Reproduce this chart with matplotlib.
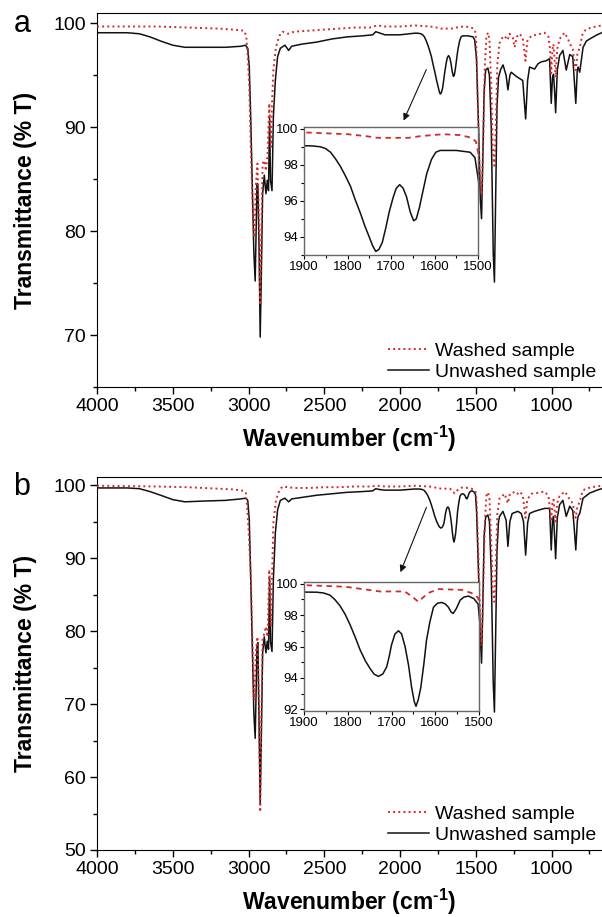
import numpy as np
import matplotlib
matplotlib.use("Agg")
import matplotlib.pyplot as plt
from matplotlib.ticker import MultipleLocator
from matplotlib.lines import Line2D

plt.rcParams['font.family'] = ['Liberation Sans', 'DejaVu Sans']
plt.rcParams['mathtext.fontset'] = 'custom'
plt.rcParams['mathtext.rm'] = 'Liberation Sans'
plt.rcParams['mathtext.bf'] = 'Liberation Sans:bold'

# ---- panel a: unwashed (black) ----
wn_unwashed_a = [4000, 3800, 3720, 3650, 3580, 3500, 3420, 3300, 3150, 3050, 3020, 3005, 2995, 2985,
                 2975, 2965, 2956, 2950, 2944, 2938, 2930, 2923, 2915, 2907, 2896, 2885, 2876, 2868,
                 2861, 2855, 2845, 2836, 2823, 2808, 2790, 2760, 2735, 2715, 2650, 2550, 2450, 2350,
                 2250, 2180, 2160, 2140, 2100, 2000, 1900, 1880, 1862, 1850, 1839, 1828, 1816, 1805,
                 1793, 1782, 1770, 1760, 1750, 1742, 1735, 1728, 1720, 1712, 1704, 1695, 1688, 1680,
                 1672, 1664, 1656, 1648, 1642, 1635, 1627, 1618, 1607, 1597, 1587, 1550, 1518, 1507,
                 1495, 1480, 1470, 1462, 1455, 1445, 1435, 1420, 1410, 1398, 1385, 1377, 1370, 1360,
                 1350, 1335, 1320, 1300, 1288, 1275, 1266, 1233, 1211, 1190, 1171, 1158, 1145, 1112,
                 1090, 1068, 1035, 1013, 1002, 994, 987, 980, 973, 962, 947, 925, 903, 880, 860, 850,
                 840, 830, 825, 814, 792, 770, 748, 700, 669]
t_unwashed_a = [99.1, 99.1, 99.0, 98.7, 98.3, 97.9, 97.7, 97.7, 97.7, 97.8, 97.9, 97.6, 95.8, 90.7,
                84.3, 78.0, 75.2, 80.0, 84.6, 84.3, 78.0, 69.8, 76.0, 83.6, 85.4, 83.6, 84.9, 83.9,
                91.0, 84.9, 83.9, 91.0, 94.5, 96.8, 97.6, 97.9, 97.4, 97.8, 98.0, 98.2, 98.5, 98.7,
                98.8, 98.9, 99.2, 99.1, 98.9, 98.9, 99.06, 99.05, 99.0, 98.9, 98.7, 98.35, 97.9, 97.4,
                96.8, 96.05, 95.3, 94.6, 94.0, 93.5, 93.2, 93.3, 93.7, 94.5, 95.4, 96.2, 96.7, 96.9,
                96.7, 96.2, 95.4, 94.9, 95.0, 95.6, 96.5, 97.5, 98.3, 98.7, 98.8, 98.8, 98.7, 98.4,
                96.5, 89.0, 83.0, 81.2, 86.0, 93.5, 95.5, 95.7, 95.0, 90.0, 78.0, 75.1, 82.0, 92.0,
                94.8, 95.6, 96.0, 95.0, 93.6, 95.0, 95.3, 94.9, 94.7, 94.5, 90.8, 94.5, 95.8, 95.6,
                96.1, 96.3, 96.4, 96.6, 92.3, 94.8, 95.1, 93.5, 91.4, 95.5, 96.9, 97.4, 95.5, 97.0,
                96.8, 94.5, 92.3, 95.5, 95.8, 95.3, 97.7, 98.3, 98.5, 98.9, 99.1]

# ---- panel a: washed (red) ----
wn_washed_a = [4000, 3800, 3600, 3400, 3200, 3100, 3030, 3015, 3006, 2995, 2984, 2970, 2962, 2952,
               2941, 2930, 2923, 2915, 2907, 2896, 2885, 2874, 2863, 2852, 2845, 2836, 2819, 2797,
               2775, 2740, 2700, 2600, 2500, 2400, 2300, 2200, 2150, 2100, 2000, 1900, 1850, 1800,
               1760, 1730, 1700, 1660, 1630, 1580, 1540, 1515, 1505, 1498, 1488, 1475, 1462, 1452,
               1440, 1430, 1420, 1410, 1398, 1388, 1377, 1368, 1358, 1343, 1325, 1310, 1290, 1277,
               1255, 1244, 1230, 1211, 1190, 1172, 1160, 1134, 1100, 1046, 1020, 1010, 1002, 994,
               987, 980, 973, 963, 947, 914, 895, 880, 860, 848, 840, 830, 814, 795, 781, 740, 669]
t_washed_a = [99.7, 99.7, 99.7, 99.6, 99.5, 99.4, 99.3, 98.8, 97.1, 93.9, 87.5, 81.1, 79.4, 84.3,
              86.5, 80.5, 72.9, 80.0, 86.5, 86.8, 85.8, 87.5, 92.3, 88.1, 92.3, 95.5, 97.7, 98.8,
              99.2, 99.0, 99.2, 99.3, 99.4, 99.5, 99.6, 99.6, 99.8, 99.7, 99.7, 99.8, 99.75, 99.7,
              99.6, 99.5, 99.5, 99.5, 99.6, 99.7, 99.65, 99.5, 99.3, 98.5, 93.0, 86.0, 83.5, 88.0,
              96.0, 98.7, 99.1, 98.5, 94.0, 88.0, 86.3, 90.0, 96.0, 98.1, 98.6, 98.8, 98.4, 99.0,
              98.6, 97.7, 98.7, 99.0, 98.6, 96.4, 98.3, 98.8, 98.9, 99.1, 98.7, 97.5, 95.2, 97.5,
              98.0, 96.5, 94.8, 97.5, 98.5, 99.1, 98.6, 98.1, 97.5, 96.0, 95.5, 97.0, 97.7, 99.0,
              99.3, 99.6, 99.8]

# ---- panel b: unwashed (black) ----
wn_unwashed_b = [4000, 3800, 3720, 3650, 3580, 3500, 3420, 3300, 3150, 3050, 3020, 3005, 2995, 2985,
                 2975, 2965, 2956, 2950, 2944, 2938, 2930, 2923, 2915, 2907, 2896, 2885, 2876, 2868,
                 2861, 2855, 2845, 2836, 2823, 2808, 2790, 2760, 2735, 2715, 2650, 2550, 2450, 2350,
                 2250, 2180, 2160, 2140, 2100, 2000, 1900, 1870, 1855, 1841, 1830, 1818, 1806, 1795,
                 1783, 1772, 1760, 1749, 1740, 1730, 1720, 1711, 1705, 1700, 1692, 1684, 1677, 1669,
                 1661, 1654, 1648, 1644, 1639, 1633, 1626, 1620, 1612, 1604, 1595, 1585, 1577, 1570,
                 1564, 1559, 1552, 1543, 1534, 1524, 1512, 1502, 1495, 1482, 1470, 1462, 1455, 1445,
                 1435, 1420, 1410, 1398, 1385, 1377, 1370, 1360, 1350, 1343, 1321, 1300, 1288, 1275,
                 1260, 1222, 1200, 1185, 1171, 1158, 1145, 1112, 1079, 1046, 1013, 1002, 994, 987,
                 980, 973, 962, 947, 925, 903, 880, 860, 850, 840, 830, 825, 814, 792, 748, 700, 669]
t_unwashed_b = [99.6, 99.6, 99.5, 99.1, 98.6, 98.0, 97.7, 97.8, 97.9, 98.1, 98.2, 97.9, 95.2, 87.0,
                77.9, 68.8, 65.3, 72.0, 77.9, 78.4, 66.4, 56.4, 66.0, 77.0, 79.2, 77.0, 78.6, 77.5,
                87.4, 78.5, 77.2, 87.0, 93.4, 96.6, 97.9, 98.2, 97.7, 98.1, 98.3, 98.6, 98.8, 99.0,
                99.1, 99.2, 99.5, 99.4, 99.3, 99.3, 99.46, 99.45, 99.4, 99.27, 99.0, 98.6, 98.05, 97.4,
                96.6, 95.8, 95.1, 94.6, 94.25, 94.1, 94.25, 94.7, 95.4, 96.1, 96.8, 97.0, 96.8, 96.0,
                94.8, 93.4, 92.5, 92.2, 92.6, 93.4, 94.9, 96.4, 97.6, 98.5, 98.75, 98.8, 98.7, 98.5,
                98.2, 98.1, 98.4, 98.95, 99.15, 99.2, 99.05, 98.7, 96.5, 88.0, 79.0, 75.6, 82.0, 93.0,
                95.6, 95.9, 95.0, 88.0, 73.0, 68.9, 78.0, 91.0, 95.0, 95.7, 96.4, 95.2, 91.6, 95.0,
                96.1, 96.4, 96.1, 95.0, 90.4, 94.8, 96.1, 96.4, 96.6, 96.8, 96.8, 91.1, 95.0, 95.7,
                93.0, 89.9, 95.5, 97.3, 97.9, 95.7, 97.1, 96.5, 94.0, 91.1, 95.0, 95.7, 96.1, 98.2,
                98.9, 99.3, 99.5]

# ---- panel b: washed (red) ----
wn_washed_b = [4000, 3800, 3600, 3400, 3200, 3100, 3030, 3017, 3006, 2995, 2984, 2970, 2962, 2952,
               2941, 2930, 2923, 2915, 2907, 2896, 2885, 2874, 2863, 2852, 2845, 2836, 2819, 2797,
               2775, 2700, 2600, 2500, 2400, 2300, 2200, 2150, 2100, 2000, 1900, 1806, 1727, 1670,
               1654, 1639, 1616, 1593, 1540, 1517, 1502, 1495, 1485, 1472, 1462, 1452, 1440, 1430,
               1420, 1410, 1398, 1388, 1377, 1368, 1358, 1343, 1325, 1310, 1288, 1275, 1250, 1230,
               1210, 1190, 1172, 1160, 1134, 1100, 1046, 1020, 1002, 994, 987, 980, 973, 963, 947,
               914, 895, 880, 860, 848, 840, 830, 814, 795, 781, 740, 669]
t_washed_b = [99.9, 99.85, 99.8, 99.7, 99.5, 99.4, 99.2, 98.9, 96.1, 92.0, 87.0, 75.1, 70.5, 77.0,
              79.2, 68.8, 55.2, 68.0, 78.8, 79.7, 80.6, 79.2, 88.4, 80.6, 87.0, 94.8, 97.9, 99.3,
              99.8, 99.6, 99.6, 99.7, 99.7, 99.8, 99.8, 99.9, 99.8, 99.8, 99.9, 99.8, 99.5, 99.5,
              99.2, 98.85, 99.4, 99.65, 99.6, 99.4, 99.1, 98.0, 92.0, 82.0, 78.0, 85.0, 95.0, 98.5,
              99.0, 98.3, 92.0, 86.0, 84.0, 89.0, 96.0, 98.2, 98.5, 98.8, 97.5, 98.8, 99.0, 98.7,
              99.1, 98.6, 95.5, 98.0, 98.8, 98.9, 99.1, 98.5, 95.0, 97.5, 98.0, 96.5, 95.0, 97.5,
              98.5, 99.1, 98.6, 98.0, 97.5, 96.0, 95.5, 97.0, 97.7, 99.2, 99.4, 99.7, 99.9]

RED = '#d42a2a'
BLACK = '#111111'
W, H = 602, 917


def rect(left, top, right, bottom):
    return [left / W, 1 - bottom / H, (right - left) / W, (bottom - top) / H]


def draw_panel(fig, main_box, inset_box, wn_u, t_u, wn_w, t_w, ylim, yticks,
               inset_ylim, inset_yticks, arrow_from, arrow_to, letter, letter_y):
    ax = fig.add_axes(rect(*main_box))
    ax.plot(wn_w, t_w, color=RED, ls=':', lw=1.4, zorder=3)
    ax.plot(wn_u, t_u, color=BLACK, lw=1.1, zorder=2)
    ax.set_xlim(4000, 667)
    ax.set_ylim(*ylim)
    ax.set_xticks([4000, 3500, 3000, 2500, 2000, 1500, 1000])
    ax.xaxis.set_minor_locator(MultipleLocator(250))
    ax.set_yticks(yticks)
    ax.yaxis.set_minor_locator(MultipleLocator(5))
    ax.tick_params(which='both', direction='out', labelsize=14, width=1)
    ax.tick_params(which='major', length=5, pad=3)
    ax.tick_params(which='minor', length=3)
    ax.spines['right'].set_visible(False)
    ax.set_xlabel('Wavenumber (cm$^{\\mathbf{\u2010}\\mathbf{1}}$)', fontsize=16.5,
                  fontweight='bold', labelpad=6)

    handles = [Line2D([], [], color=RED, ls=':', lw=1.4),
               Line2D([], [], color=BLACK, lw=1.1)]
    ax.legend(handles, ['Washed sample', 'Unwashed sample'], loc='lower right',
              frameon=False, fontsize=14, handlelength=2.1, handletextpad=0.3,
              labelspacing=0.2, borderaxespad=0.2, borderpad=0.1)

    ax.annotate('', xy=arrow_to, xytext=arrow_from,
                arrowprops=dict(arrowstyle='-|>', color=BLACK, lw=0.8, mutation_scale=10))

    top, bottom = main_box[1], main_box[3]
    fig.text(26 / W, 1 - (top + bottom) / 2 / H, 'Transmittance (% T)', rotation=90,
             ha='center', va='center', fontsize=16.5, fontweight='bold')
    fig.text(22 / W, 1 - letter_y / H, letter, ha='center', va='baseline', fontsize=22)

    ins = fig.add_axes(rect(*inset_box))
    ins.plot(wn_w, t_w, color=RED, ls=(0, (3, 2.5)), lw=1.3, zorder=3)
    ins.plot(wn_u, t_u, color=BLACK, lw=1.1, zorder=2)
    ins.set_xlim(1900, 1500)
    ins.set_ylim(*inset_ylim)
    ins.set_xticks([1900, 1800, 1700, 1600, 1500])
    ins.xaxis.set_minor_locator(MultipleLocator(50))
    ins.set_yticks(inset_yticks)
    ins.yaxis.set_minor_locator(MultipleLocator(1))
    ins.tick_params(which='both', direction='out', labelsize=9.5, width=0.8, pad=1.5)
    ins.tick_params(which='major', length=3)
    ins.tick_params(which='minor', length=2)
    for s in ins.spines.values():
        s.set_color('#666666')
        s.set_linewidth(1)
    return ax, ins


fig = plt.figure(figsize=(W / 100, H / 100), dpi=100)

draw_panel(fig, (97, 13, 602, 387), (304, 127, 478, 255),
           wn_unwashed_a, t_unwashed_a, wn_washed_a, t_washed_a,
           (65, 101), [70, 80, 90, 100], (93, 100.1), [94, 96, 98, 100],
           (1819, 95.8), (1984, 90.4), 'a', 32)

draw_panel(fig, (97, 477, 602, 850), (304, 582, 479, 711),
           wn_unwashed_b, t_unwashed_b, wn_washed_b, t_washed_b,
           (50, 101.1), [50, 60, 70, 80, 90, 100], (91.9, 100.1), [92, 94, 96, 98, 100],
           (1819, 97.3), (2004, 87.7), 'b', 495)

fig.savefig('out.png', dpi=100)
